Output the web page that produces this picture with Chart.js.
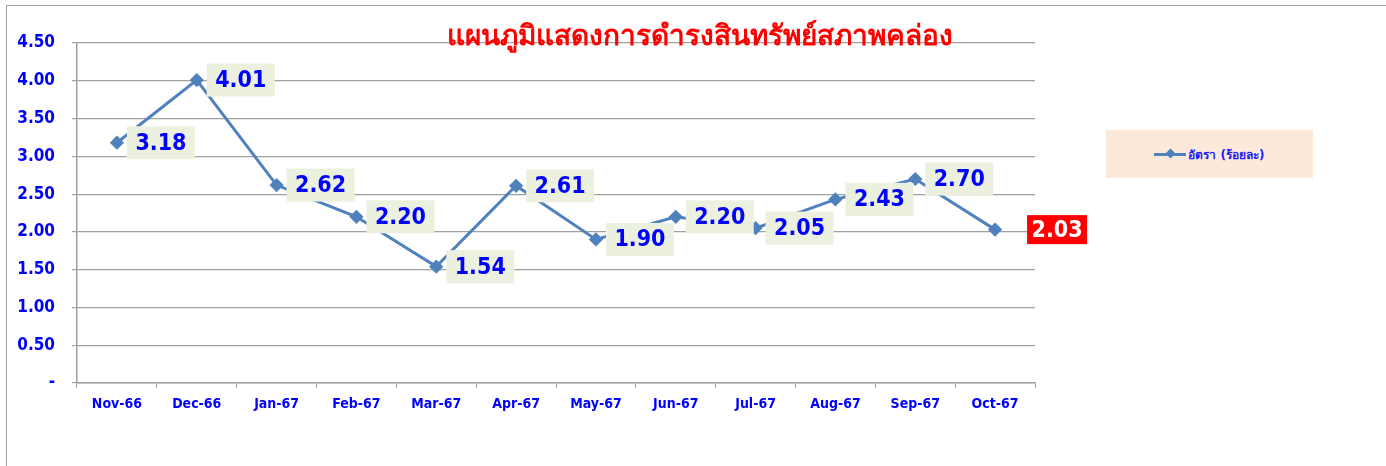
<!DOCTYPE html>
<html>
<head>
<meta charset="utf-8">
<script src="https://cdn.jsdelivr.net/npm/chart.js@4.4.0/dist/chart.umd.min.js"></script>
<style>
  body { margin: 0; background: #fff; }
  #wrap { position: relative; width: 1386px; height: 466px; overflow: hidden; }
  #frame { position: absolute; left: 6px; top: 5px; width: 1400px; height: 480px; border: 1.5px solid #a0a0a0; box-sizing: border-box; }
  #legend { position: absolute; left: 1106px; top: 130px; width: 207px; height: 48px; background: #fde9d9;
    display: flex; align-items: center; justify-content: center; font: bold 12px Tahoma, "DejaVu Sans", sans-serif; color: #1a1aff; }
  #legend .mk { position: relative; width: 32px; height: 3px; background: #4f81bd; margin-right: 2px; }
  #legend .mk::after { content: ''; position: absolute; left: 13px; top: -3px; width: 7px; height: 7px; background: #4f81bd; transform: rotate(45deg); }
</style>
</head>
<body>
<div id="wrap">
  <div id="frame"></div>
  <canvas id="chart" width="1386" height="466"></canvas>
  <div id="legend"><span class="mk"></span>อัตรา (ร้อยละ)</div>
</div>
<script>
const months = ['Nov-66', 'Dec-66', 'Jan-67', 'Feb-67', 'Mar-67', 'Apr-67', 'May-67', 'Jun-67', 'Jul-67', 'Aug-67', 'Sep-67', 'Oct-67'];
const rates = [3.18, 4.01, 2.62, 2.20, 1.54, 2.61, 1.90, 2.20, 2.05, 2.43, 2.70, 2.03];
const yTicks = [0, 0.5, 1, 1.5, 2, 2.5, 3, 3.5, 4, 4.5];
const chartTitle = 'แผนภูมิแสดงการดำรงสินทรัพย์สภาพคล่อง';
const seriesName = 'อัตรา (ร้อยละ)';

const FONT = 'Tahoma, "DejaVu Sans", sans-serif';
const NUM_FONT = '"DejaVu Sans Condensed", "DejaVu Sans", sans-serif';

// draws the boxed value labels next to each point
const valueLabels = {
  id: 'valueLabels',
  afterDatasetsDraw(chart) {
    const ctx = chart.ctx;
    const meta = chart.getDatasetMeta(0);
    ctx.save();
    ctx.font = 'bold 23px ' + NUM_FONT;
    ctx.textBaseline = 'middle';
    ctx.textAlign = 'center';
    meta.data.forEach((pt, i) => {
      const last = i === meta.data.length - 1;
      const txt = rates[i].toFixed(2);
      const w = last ? 60 : 68, h = last ? 29 : 33;
      const x = pt.x + (last ? 32 : 10);
      const y = pt.y - h / 2;
      ctx.fillStyle = last ? '#ff0000' : '#ebf1de';
      ctx.fillRect(x, y, w, h);
      ctx.fillStyle = last ? '#ffffff' : '#0000ff';
      ctx.fillText(txt, x + w / 2, pt.y + 1);
    });
    ctx.restore();
  }
};

// title sits over the top of the plot area
const titleText = {
  id: 'titleText',
  afterDraw(chart) {
    const ctx = chart.ctx;
    ctx.save();
    ctx.font = 'bold 28px ' + FONT;
    ctx.fillStyle = '#ff0000';
    ctx.textAlign = 'center';
    ctx.textBaseline = 'alphabetic';
    ctx.fillText(chartTitle, 700, 45);
    ctx.restore();
  }
};

new Chart(document.getElementById('chart').getContext('2d'), {
  type: 'line',
  data: {
    labels: months,
    datasets: [{
      label: seriesName,
      data: rates,
      borderColor: '#4f81bd',
      backgroundColor: '#4f81bd',
      borderWidth: 3,
      tension: 0,
      pointStyle: 'rectRot',
      pointRadius: 5,
      pointHoverRadius: 5
    }]
  },
  options: {
    responsive: false,
    animation: false,
    layout: { padding: { top: 43, right: 351, left: 0, bottom: 0 } },
    plugins: {
      legend: { display: false },
      tooltip: { enabled: false }
    },
    scales: {
      x: {
        offset: true,
        afterFit: (scale) => { scale.height = 83; },
        grid: {
          offset: true,
          drawOnChartArea: false,
          drawTicks: true,
          tickLength: 5,
          color: '#a0a0a0'
        },
        border: { display: true, color: '#a0a0a0', width: 1.5 },
        ticks: {
          color: '#0000ff',
          font: { family: NUM_FONT, size: 14, weight: 'bold' },
          padding: 8,
          maxRotation: 0,
          autoSkip: false
        }
      },
      y: {
        min: 0,
        max: 4.5,
        afterFit: (scale) => { scale.width = 77; },
        afterBuildTicks: (axis) => { axis.ticks = yTicks.map(v => ({ value: v })); },
        grid: {
          color: '#a0a0a0',
          lineWidth: 1.2,
          tickLength: 5
        },
        border: { display: true, color: '#a0a0a0', width: 1.5 },
        ticks: {
          color: '#0000ff',
          font: { family: NUM_FONT, size: 17, weight: 'bold' },
          padding: 17,
          callback: (v) => v === 0 ? '-' : Number(v).toFixed(2)
        }
      }
    }
  },
  plugins: [valueLabels, titleText]
});
</script>
</body>
</html>
